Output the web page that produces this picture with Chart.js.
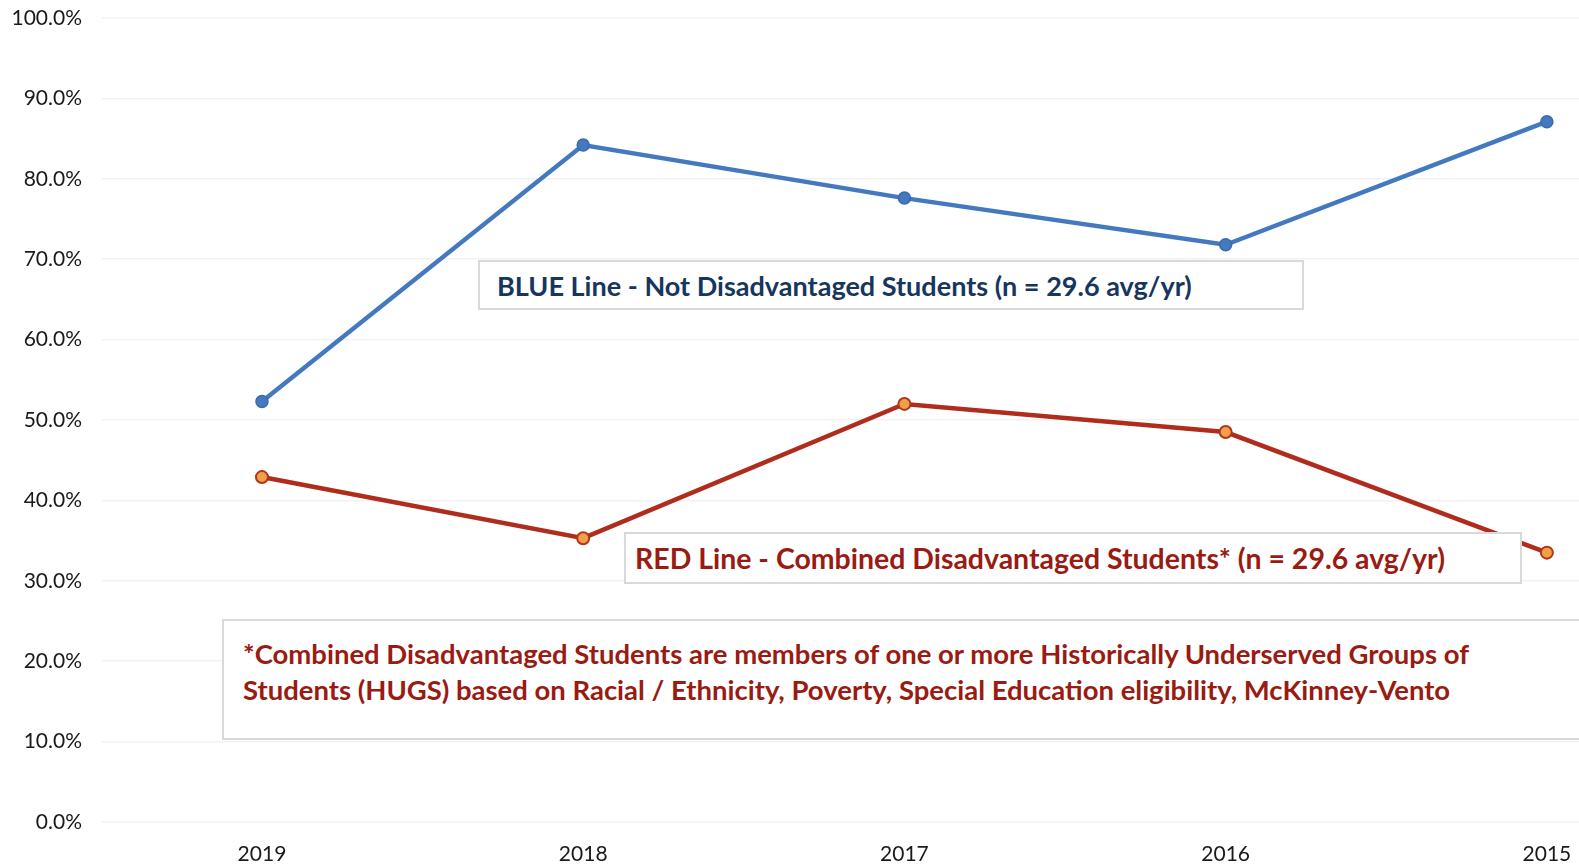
<!DOCTYPE html>
<html><head><meta charset="utf-8">
<script src="https://cdn.jsdelivr.net/npm/chart.js@4/dist/chart.umd.min.js"></script>
<style>
html,body{margin:0;padding:0;background:#fff;}
#wrap{position:relative;width:1579px;height:866px;overflow:hidden;background:#fff;}
#c{position:absolute;left:0;top:0;}
.box{position:absolute;background:#fff;border:2px solid #d9d9d9;box-sizing:border-box;font-family:Lato,"Open Sans",sans-serif;font-weight:bold;white-space:nowrap;}
.one{display:flex;align-items:center;}
.line{display:block;line-height:36px;}
</style></head><body>
<div id="wrap">
<canvas id="c" width="1579" height="866" style="width:1579px;height:866px"></canvas>
<div class="box one" id="bBlue" style="left:478px;top:260px;width:826px;height:50px;padding-left:17px;color:#17365d;"><span class="fit" data-w="695">BLUE Line - Not Disadvantaged Students (n = 29.6 avg/yr)</span></div>
<div class="box one" id="bRed" style="left:624px;top:532px;width:898px;height:52px;padding-left:9px;color:#991b12;"><span class="fit" data-w="810">RED Line - Combined Disadvantaged Students* (n = 29.6 avg/yr)</span></div>
<div class="box" id="bNote" style="left:222px;top:619px;width:1400px;height:121px;padding-left:19px;padding-top:15px;color:#991b12;">
<span class="line fit" data-w="1228" id="l1">*Combined Disadvantaged Students are members of one or more Historically Underserved Groups of</span>
<span class="line" id="l2">Students (HUGS) based on Racial / Ethnicity, Poverty, Special Education eligibility, McKinney-Vento</span>
</div>
</div>
<script>
const years = ['2019', '2018', '2017', '2016', '2015'];
const notDisadvantaged = [52.3, 84.2, 77.6, 71.8, 87.1];
const combinedDisadvantaged = [42.9, 35.3, 52.0, 48.5, 33.5];
const yTickValues = [0, 10, 20, 30, 40, 50, 60, 70, 80, 90, 100];

// fit annotation text widths
const mctx = document.createElement('canvas').getContext('2d');
document.querySelectorAll('.fit').forEach(el => {
  const fam = 'Lato, "Open Sans", sans-serif';
  mctx.font = 'bold 100px ' + fam;
  const w = mctx.measureText(el.textContent).width;
  const size = 100 * (+el.dataset.w) / w;
  el.style.fontSize = size.toFixed(2) + 'px';
  if (el.id === 'l1') document.getElementById('l2').style.fontSize = size.toFixed(2) + 'px';
});

const toPts = arr => arr.map((v, i) => ({x: i, y: v}));
const tickFont = {family: 'Lato, "Open Sans", sans-serif', size: 21};

new Chart(document.getElementById('c'), {
  type: 'line',
  data: {
    datasets: [
      {
        label: 'Not Disadvantaged Students',
        data: toPts(notDisadvantaged),
        borderColor: '#4479c0',
        backgroundColor: '#4479c0',
        pointBackgroundColor: '#4479c0',
        pointBorderColor: '#3a6aae',
        borderWidth: 4.5,
        pointRadius: 6,
        pointBorderWidth: 1.5,
        tension: 0,
        clip: false
      },
      {
        label: 'Combined Disadvantaged Students',
        data: toPts(combinedDisadvantaged),
        borderColor: '#b02c1d',
        backgroundColor: '#b02c1d',
        pointBackgroundColor: '#f0a046',
        pointBorderColor: '#b2341e',
        borderWidth: 4.5,
        pointRadius: 6,
        pointBorderWidth: 2,
        tension: 0,
        clip: false
      }
    ]
  },
  options: {
    responsive: false,
    animation: false,
    devicePixelRatio: 1,
    layout: {autoPadding: false, padding: {top: 18, right: 0, left: 0, bottom: 0}},
    plugins: {legend: {display: false}, tooltip: {enabled: false}},
    scales: {
      x: {
        type: 'linear',
        min: -0.498,
        max: 4.1,
        afterBuildTicks: s => { s.ticks = years.map((_, i) => ({value: i})); },
        afterFit: s => { s.height = 44; s.paddingLeft = 0; s.paddingRight = 0; },
        ticks: {
          callback: v => years[v] ?? '',
          autoSkip: false, maxRotation: 0,
          font: tickFont, color: '#1a1a1a', padding: 20
        },
        grid: {display: false, drawTicks: false},
        border: {display: false}
      },
      y: {
        min: 0, max: 100,
        afterBuildTicks: s => { s.ticks = yTickValues.map(v => ({value: v})); },
        afterFit: s => { s.width = 102; s.paddingTop = 0; s.paddingBottom = 0; },
        ticks: {
          callback: v => v.toFixed(1) + '%',
          font: tickFont, color: '#1a1a1a', padding: 20
        },
        grid: {color: '#f2f2f2', lineWidth: 1.5, drawTicks: false},
        border: {display: false}
      }
    }
  }
});
</script>
</body></html>
